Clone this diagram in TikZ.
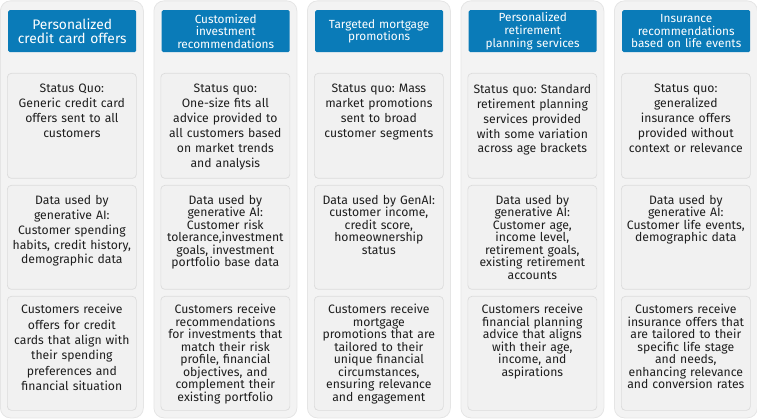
\documentclass[tikz,border=0pt]{standalone}
\usepackage{fontspec}
\setmainfont{Fira Sans}
\frenchspacing
\definecolor{hdr}{HTML}{0A7BB8}
\definecolor{panelfill}{HTML}{F3F3F3}
\definecolor{panelline}{HTML}{E5E5E5}
\definecolor{boxfill}{HTML}{F1F1F1}
\definecolor{boxline}{HTML}{DCDCDC}
\definecolor{txt}{HTML}{1E1E1E}
\tikzset{
  panel/.style={fill=panelfill, draw=panelline, line width=0.8pt, rounded corners=10pt,
    minimum width=143pt, minimum height=417pt, anchor=north west, inner sep=0pt},
  hdrbox/.style={fill=hdr, draw=none, rounded corners=1.5pt, minimum width=128pt,
    minimum height=42pt, anchor=north west, inner sep=0pt, text=white, align=center,
    text width=126pt, font=\fontsize{11.8}{12.6}\selectfont},
  bighdr/.style={font=\fontsize{13.8}{14.2}\selectfont},
  cardbox/.style={fill=boxfill, draw=boxline, line width=0.7pt, rounded corners=4pt,
    minimum width=129pt, anchor=north west, inner sep=0pt},
  btext/.style={text=txt, align=center, text width=128pt, inner sep=0pt, anchor=north,
    font=\fontsize{12.2}{14.9}\selectfont},
  tight/.style={font=\fontsize{12.2}{12.5}\selectfont},
}
\begin{document}
\begin{tikzpicture}[x=1pt,y=-1pt]
\useasboundingbox (0,0) rectangle (757,419);
% ---------- column 1 ----------
\node[panel] (p1) at (0,0.5) {};
\node[hdrbox,bighdr] (h1) at (8,10) {Personalized\\credit card offers};
\node[cardbox, minimum height=105pt] (a1) at (7,73) {};
\node[cardbox, minimum height=104pt] (b1) at (7,185) {};
\node[cardbox, minimum height=114pt] (c1) at (7,296) {};
\node[btext] (ta1) at ([yshift=-11pt]a1.north) {Status Quo:\\Generic credit card\\offers sent to all\\customers};
\node[btext] (tb1) at ([yshift=-10pt]b1.north) {Data used by\\generative AI:\\Customer spending\\habits, credit history,\\demographic data};
\node[btext, font=\fontsize{12.2}{15.4}\selectfont] (tc1) at ([yshift=-8pt]c1.north) {Customers receive\\offers for credit\\cards that align with\\their spending\\preferences and\\financial situation};
% ---------- column 2 ----------
\node[panel] (p2) at (153.5,0.5) {};
\node[hdrbox] (h2) at (161.5,10) {Customized\\investment\\recommendations};
\node[cardbox, minimum height=105pt] (a2) at (160.5,73) {};
\node[cardbox, minimum height=104pt] (b2) at (160.5,185) {};
\node[cardbox, minimum height=114pt] (c2) at (160.5,296) {};
\node[btext] (ta2) at ([yshift=-11pt]a2.north) {Status quo:\\One-size fits all\\advice provided to\\all customers based\\on market trends\\and analysis};
\node[btext,tight] (tb2) at ([yshift=-10pt]b2.north) {Data used by\\generative AI:\\Customer risk\\tolerance,investment\\goals, investment\\portfolio base data};
\node[btext,tight] (tc2) at ([yshift=-8pt]c2.north) {Customers receive\\recommendations\\for investments that\\match their risk\\profile, financial\\objectives, and\\complement their\\existing portfolio};
% ---------- column 3 ----------
\node[panel] (p3) at (307,0.5) {};
\node[hdrbox] (h3) at (315,10) {Targeted mortgage\\promotions};
\node[cardbox, minimum height=105pt] (a3) at (314,73) {};
\node[cardbox, minimum height=104pt] (b3) at (314,185) {};
\node[cardbox, minimum height=114pt] (c3) at (314,296) {};
\node[btext] (ta3) at ([yshift=-11pt]a3.north) {Status quo: Mass\\market promotions\\sent to broad\\customer segments};
\node[btext,tight] (tb3) at ([yshift=-10pt]b3.north) {Data used by GenAI:\\customer income,\\credit score,\\homeownership\\status};
\node[btext,tight] (tc3) at ([yshift=-8pt]c3.north) {Customers receive\\mortgage\\promotions that are\\tailored to their\\unique financial\\circumstances,\\ensuring relevance\\and engagement};
% ---------- column 4 ----------
\node[panel] (p4) at (460.5,0.5) {};
\node[hdrbox] (h4) at (468.5,10) {Personalized\\retirement\\planning services};
\node[cardbox, minimum height=105pt] (a4) at (467.5,73) {};
\node[cardbox, minimum height=104pt] (b4) at (467.5,185) {};
\node[cardbox, minimum height=114pt] (c4) at (467.5,296) {};
\node[btext] (ta4) at ([yshift=-11pt]a4.north) {Status quo: Standard\\retirement planning\\services provided\\with some variation\\across age brackets};
\node[btext,tight] (tb4) at ([yshift=-10pt]b4.north) {Data used by\\generative AI:\\Customer age,\\income level,\\retirement goals,\\existing retirement\\accounts};
\node[btext,tight] (tc4) at ([yshift=-8pt]c4.north) {Customers receive\\financial planning\\advice that aligns\\with their age,\\income, and\\aspirations};
% ---------- column 5 ----------
\node[panel] (p5) at (614,0.5) {};
\node[hdrbox] (h5) at (622,10) {Insurance\\recommendations\\based on life events};
\node[cardbox, minimum height=105pt] (a5) at (621,73) {};
\node[cardbox, minimum height=104pt] (b5) at (621,185) {};
\node[cardbox, minimum height=114pt] (c5) at (621,296) {};
\node[btext] (ta5) at ([yshift=-11pt]a5.north) {Status quo:\\generalized\\insurance offers\\provided without\\context or relevance};
\node[btext,tight] (tb5) at ([yshift=-10pt]b5.north) {Data used by\\generative AI:\\Customer life events,\\demographic data};
\node[btext,tight] (tc5) at ([yshift=-8pt]c5.north) {Customers receive\\insurance offers that\\are tailored to their\\specific life stage\\and needs,\\enhancing relevance\\and conversion rates};
\end{tikzpicture}
\end{document}
